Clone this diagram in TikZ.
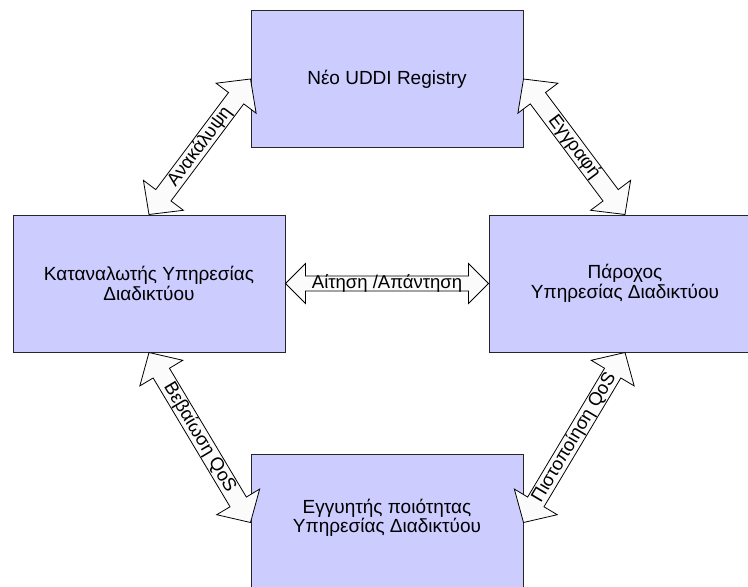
\documentclass[tikz,border=0pt]{standalone}
\usepackage{fontspec}
\setmainfont{Liberation Sans}
\usetikzlibrary{calc}
\definecolor{boxfill}{RGB}{204,204,255}
\definecolor{arrowfill}{RGB}{251,251,251}
\tikzset{
  entity/.style={draw=black!85, line width=1pt, fill=boxfill,
    minimum width=272pt, minimum height=137pt, align=center,
    font=\fontsize{19}{19.5}\selectfont},
  arrowbody/.style={draw=black, line width=0.8pt, fill=arrowfill, line join=miter},
  arrowtext/.style={inner sep=0pt, font=\fontsize{18.5}{20}\selectfont}
}
% double-headed block arrow between two named points:
% #1 from, #2 to, #3 half shaft width, #4 half head width, #5 head length, #6 label name, #7 label
\newcommand\blockarrow[7]{%
  \path[arrowbody] let \p1=(#1), \p2=(#2),
      \n1={atan2(\y2-\y1,\x2-\x1)}, \n2={veclen(\x2-\x1,\y2-\y1)} in
    [shift={(\p1)}, rotate=\n1]
    (0,0) -- (#5,#4) -- (#5,#3) -- (\n2-#5,#3) -- (\n2-#5,#4) -- (\n2,0)
    -- (\n2-#5,-#4) -- (\n2-#5,-#3) -- (#5,-#3) -- (#5,-#4) -- cycle
    (\n2/2,0) node[arrowtext, rotate=\n1] (#6) {#7};%
}
\begin{document}
\begin{tikzpicture}[x=1pt,y=1pt]
  \useasboundingbox (0,0) rectangle (748,-587);
  \clip (0,0) rectangle (748,-587);

  % the four parties
  \node[entity] (registry)  at (387,-79)    {Νέο UDDI Registry};
  \node[entity] (consumer)  at (149,-283.5) {Καταναλωτής Υπηρεσίας\\Διαδικτύου};
  \node[entity] (provider)  at (625,-283.5) {Πάροχος\\Υπηρεσίας Διαδικτύου};
  \node[entity] (guarantor) at (387,-522.5) {Εγγυητής ποιότητας\\Υπηρεσίας Διαδικτύου\\[-6pt]};

  % interactions
  \blockarrow{consumer.north}{registry.west}{9.5}{25}{24}{discover}{Ανακάλυψη}
  \blockarrow{registry.east}{provider.north}{9.5}{25}{24}{publish}{Εγγραφή}
  \blockarrow{consumer.east}{provider.west}{7.5}{20}{20}{invoke}{Αίτηση /Απάντηση}
  \blockarrow{consumer.south}{guarantor.west}{9.5}{25}{24}{confirm}{Βεβαίωση QoS}
  \blockarrow{guarantor.east}{provider.south}{9.5}{25}{24}{certify}{Πιστοποίηση QoS}
\end{tikzpicture}
\end{document}
